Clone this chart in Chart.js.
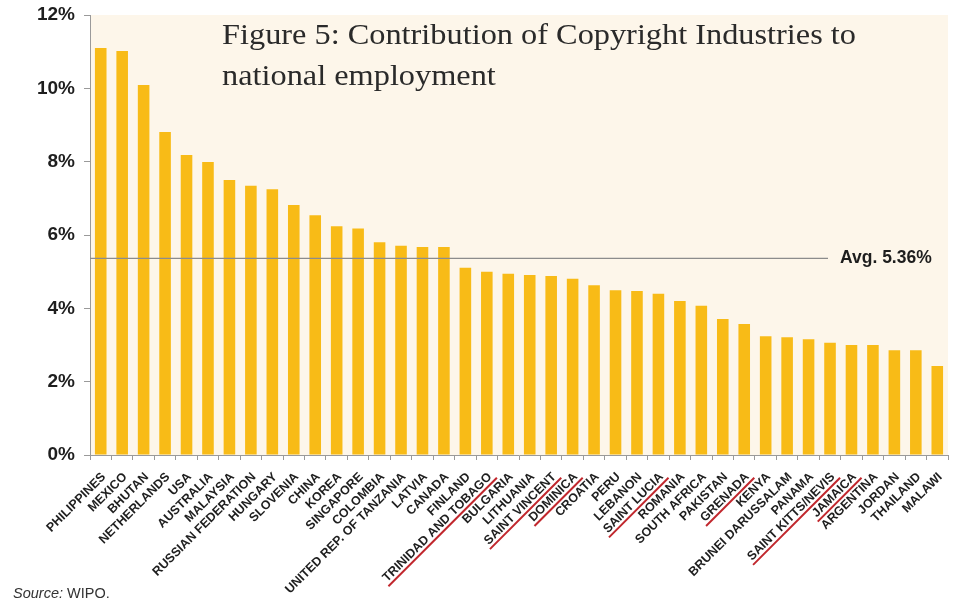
<!DOCTYPE html>
<html>
<head>
<meta charset="utf-8">
<script src="https://cdn.jsdelivr.net/npm/chart.js@4"></script>
<style>
  html, body { margin: 0; padding: 0; background: #fff; }
  canvas { display: block; }
</style>
</head>
<body>
<canvas id="chart" width="957" height="604"></canvas>
<script>
const countries = [
    'PHILIPPINES', 'MEXICO', 'BHUTAN', 'NETHERLANDS', 'USA', 'AUSTRALIA', 'MALAYSIA',
    'RUSSIAN FEDERATION', 'HUNGARY', 'SLOVENIA', 'CHINA', 'KOREA', 'SINGAPORE', 'COLOMBIA',
    'UNITED REP. OF TANZANIA', 'LATVIA', 'CANADA', 'FINLAND', 'TRINIDAD AND TOBAGO', 'BULGARIA',
    'LITHUANIA', 'SAINT VINCENT', 'DOMINICA', 'CROATIA', 'PERU', 'LEBANON', 'SAINT LUCIA',
    'ROMANIA', 'SOUTH AFRICA', 'PAKISTAN', 'GRENADA', 'KENYA', 'BRUNEI DARUSSALAM', 'PANAMA',
    'SAINT KITTS/NEVIS', 'JAMAICA', 'ARGENTINA', 'JORDAN', 'THAILAND', 'MALAWI'
];
// share of national employment, %
const employment = [
    11.10, 11.02, 10.09, 8.81, 8.18, 7.99, 7.50,
    7.34, 7.25, 6.82, 6.54, 6.24, 6.18, 5.80,
    5.71, 5.67, 5.67, 5.11, 5.00, 4.94,
    4.91, 4.88, 4.81, 4.63, 4.49, 4.47, 4.40,
    4.20, 4.07, 3.71, 3.57, 3.24, 3.21, 3.16,
    3.06, 3.00, 3.00, 2.86, 2.86, 2.43
];
const underlined = ['TRINIDAD AND TOBAGO', 'SAINT VINCENT', 'DOMINICA', 'SAINT LUCIA', 'GRENADA', 'SAINT KITTS/NEVIS', 'JAMAICA'];
const avgShare = 5.36;
const avgLabel = 'Avg. 5.36%';
const titleLines = ['Figure 5: Contribution of Copyright Industries to', 'national employment'];

const barColor = '#f8bb17';
const panelColor = '#fdf6ea';
const axisColor = '#9a9a9a';
const textColor = '#1e1e1e';

// cream panel behind the bars
const panelPlugin = {
    id: 'panel',
    beforeDraw(chart) {
        const { ctx, chartArea: a } = chart;
        ctx.save();
        ctx.fillStyle = panelColor;
        ctx.fillRect(a.left, a.top, a.right - a.left, a.bottom - a.top);
        ctx.restore();
    }
};

// average line, rotated country names, title and source
const overlayPlugin = {
    id: 'overlay',
    afterDatasetsDraw(chart) {
        const { ctx, chartArea: a } = chart;
        const y = chart.scales.y.getPixelForValue(avgShare);
        ctx.save();
        ctx.strokeStyle = '#8c8c8c';
        ctx.lineWidth = 1.2;
        ctx.beginPath();
        ctx.moveTo(a.left, y);
        ctx.lineTo(828, y);
        ctx.stroke();
        ctx.fillStyle = textColor;
        ctx.font = 'bold 17.5px "Liberation Sans"';
        ctx.textBaseline = 'middle';
        ctx.fillText(avgLabel, 840, y);
        ctx.restore();
    },
    afterDraw(chart) {
        const { ctx } = chart;
        const xs = chart.scales.x;

        ctx.save();
        ctx.font = 'bold 12.5px "Liberation Sans"';
        ctx.fillStyle = textColor;
        countries.forEach((name, i) => {
            const x = xs.getPixelForValue(i);
            ctx.save();
            ctx.translate(x + 3, xs.top + 20);
            ctx.rotate(-Math.PI / 4);
            ctx.textAlign = 'right';
            ctx.textBaseline = 'middle';
            ctx.fillText(name, 0, 0);
            if (underlined.includes(name)) {
                const w = ctx.measureText(name).width;
                ctx.strokeStyle = '#c1272d';
                ctx.lineWidth = 2;
                ctx.beginPath();
                ctx.moveTo(-w - 2, 7);
                ctx.lineTo(3, 7);
                ctx.stroke();
            }
            ctx.restore();
        });
        ctx.restore();

        // serif title, stretched a little to the width of the original typeface
        ctx.save();
        ctx.fillStyle = '#2a2a2a';
        ctx.font = '29px "Liberation Serif"';
        ctx.textBaseline = 'alphabetic';
        const sx = 634 / ctx.measureText(titleLines[0]).width;
        ctx.translate(222, 0);
        ctx.scale(sx, 1);
        ctx.fillText(titleLines[0], 0, 44);
        ctx.fillText(titleLines[1], 0, 85);
        ctx.restore();

        ctx.save();
        ctx.fillStyle = '#333';
        ctx.font = 'italic 14.5px "Liberation Sans"';
        ctx.fillText('Source:', 13, 598);
        const sw = ctx.measureText('Source: ').width;
        ctx.font = '14.5px "Liberation Sans"';
        ctx.fillText('WIPO.', 13 + sw, 598);
        ctx.restore();
    }
};

new Chart(document.getElementById('chart'), {
    type: 'bar',
    data: {
        labels: countries,
        datasets: [{
            data: employment,
            backgroundColor: barColor,
            borderWidth: 0,
            categoryPercentage: 1,
            barPercentage: 0.54
        }]
    },
    options: {
        responsive: false,
        animation: false,
        layout: { padding: { top: 15, right: 9, left: 0, bottom: 0 } },
        plugins: {
            legend: { display: false },
            tooltip: { enabled: false }
        },
        scales: {
            x: {
                afterFit: s => { s.height = 149; },
                ticks: { display: false },
                grid: { offset: true, drawOnChartArea: false, drawTicks: true, tickLength: 5, color: axisColor },
                border: { color: axisColor, width: 1 }
            },
            y: {
                min: 0,
                max: 12,
                afterFit: s => { s.width = 90; s.paddingTop = 0; s.paddingBottom = 0; },
                ticks: {
                    stepSize: 2,
                    padding: 9,
                    color: textColor,
                    font: { family: '"Liberation Sans"', size: 19, weight: 'bold' },
                    callback: v => v + '%'
                },
                grid: { drawOnChartArea: false, drawTicks: true, tickLength: 6, color: axisColor },
                border: { color: axisColor, width: 1 }
            }
        }
    },
    plugins: [panelPlugin, overlayPlugin]
});
</script>
</body>
</html>
